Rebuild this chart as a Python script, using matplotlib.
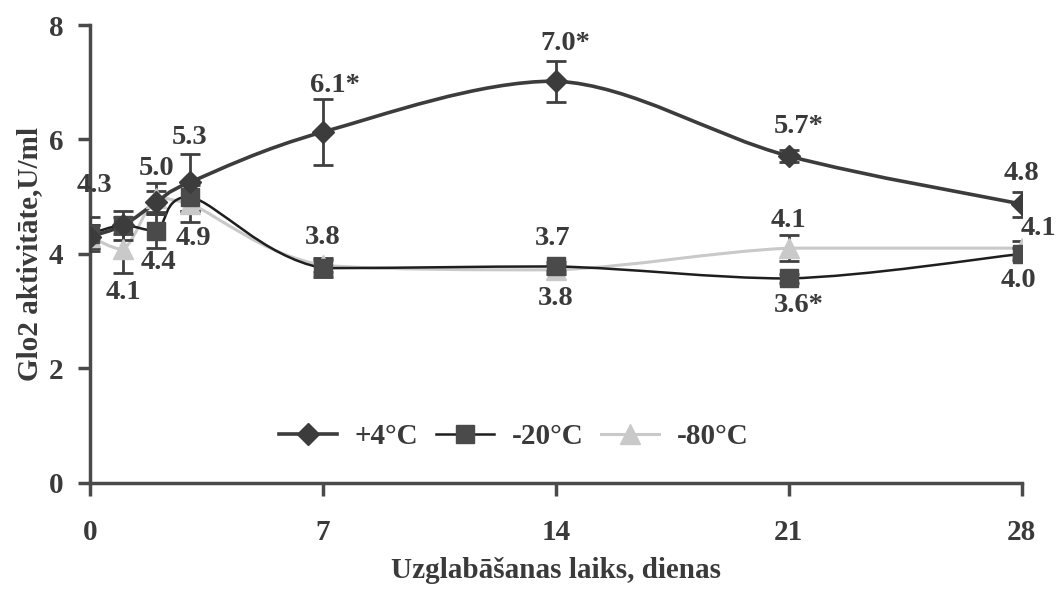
import numpy as np
import matplotlib
matplotlib.use('Agg')
import matplotlib.pyplot as plt
from matplotlib.path import Path
from matplotlib.patches import PathPatch
from matplotlib.lines import Line2D

# storage time, days
days = [0, 1, 2, 3, 7, 14, 21, 28]

plus4 = [4.3, 4.5, 4.9, 5.25, 6.13, 7.02, 5.71, 4.87]
plus4_err = [0.2, 0.15, 0.2, 0.5, 0.57, 0.36, 0.1, 0.22]

minus20 = [4.35, 4.5, 4.4, 5.0, 3.75, 3.78, 3.57, 4.0]
minus20_err = [0.3, 0.25, 0.3, 0.25, 0.15, 0.08, 0.08, 0.1]

minus80 = [4.3, 4.08, 4.98, 4.88, 3.8, 3.72, 4.1, 4.1]
minus80_err = [0.2, 0.42, 0.25, 0.32, 0.12, 0.08, 0.23, 0.12]

# value labels: (text, x, y)
labels = [
    ("4.3", 0.15, 5.2), ("4.1", 1.0, 3.32), ("5.0", 2.0, 5.5), ("4.4", 2.05, 3.85),
    ("5.3", 3.0, 6.03), ("4.9", 3.1, 4.27), ("6.1*", 7.35, 6.95), ("3.8", 7.0, 4.29),
    ("7.0*", 14.3, 7.67), ("3.7", 13.9, 4.27), ("3.8", 14.0, 3.22),
    ("5.7*", 21.3, 6.22), ("4.1", 21.0, 4.59), ("3.6*", 21.3, 3.1),
    ("4.8", 28.0, 5.41), ("4.1", 28.5, 4.45), ("4.0", 27.9, 3.54),
]

TXT = '#3a3a3a'
plt.rcParams['font.family'] = ['Liberation Serif', 'DejaVu Serif']
plt.rcParams['font.weight'] = 'bold'


def smooth_path(xs, ys):
    # bezier through the points (like Excel "smoothed line"), control points kept
    # inside each segment's y range so the curve does not overshoot
    pts = np.column_stack([xs, ys]).astype(float)
    n = len(pts)
    verts = [pts[0]]
    codes = [Path.MOVETO]
    for i in range(n - 1):
        p0 = pts[i - 1] if i > 0 else pts[i]
        p1 = pts[i]
        p2 = pts[i + 1]
        p3 = pts[i + 2] if i + 2 < n else pts[i + 1]
        c1 = p1 + (p2 - p0) / 6.0
        c2 = p2 - (p3 - p1) / 6.0
        lo, hi = min(p1[1], p2[1]), max(p1[1], p2[1])
        c1[1] = np.clip(c1[1], lo, hi)
        c2[1] = np.clip(c2[1], lo, hi)
        verts += [c1, c2, p2]
        codes += [Path.CURVE4] * 3
    return Path(verts, codes)


fig = plt.figure(figsize=(10.58, 5.89), dpi=100)
ax = fig.add_axes([0.085, 0.1805, 0.8807, 0.777])

series = [
    (minus80, minus80_err, '#c9c9c9', '#c9c9c9', '^', 14, 2.2),
    (minus20, minus20_err, '#1e1e1e', '#4a4a4a', 's', 13, 1.8),
    (plus4, plus4_err, '#3c3c3c', '#3c3c3c', 'D', 11, 2.6),
]
for vals, err, lc, mc, mk, ms, lw in series:
    ax.add_patch(PathPatch(smooth_path(days, vals), fill=False, edgecolor=lc, lw=lw, zorder=2))
    ax.errorbar(days, vals, yerr=err, fmt='none', ecolor='#404040', elinewidth=2,
                capsize=7, capthick=2, zorder=3)
    ax.plot(days, vals, linestyle='none', marker=mk, markersize=ms, color=mc,
            markeredgecolor=mc, zorder=4)

for t, x, y in labels:
    ax.text(x, y, t, ha='center', va='center', fontsize=20.5, fontweight='bold', color=TXT, zorder=5)

ax.set_xlim(0, 28)
ax.set_ylim(0, 8)
ax.set_xticks([0, 7, 14, 21, 28])
ax.set_yticks([0, 2, 4, 6, 8])
for s in ['top', 'right']:
    ax.spines[s].set_visible(False)
for s in ['left', 'bottom']:
    ax.spines[s].set_color('#4a4a4a')
    ax.spines[s].set_linewidth(2.5)
    ax.spines[s].set_clip_on(False)
ax.tick_params(axis='both', direction='out', length=9, width=2.5, color='#4a4a4a',
               labelsize=21, labelcolor=TXT)
ax.tick_params(axis='x', pad=17)
ax.tick_params(axis='y', pad=10)

ax.set_xlabel('Uzglabāšanas laiks, dienas', fontsize=21, fontweight='bold', color=TXT, labelpad=8)
ax.set_ylabel('Glo2 aktivitāte,U/ml', fontsize=21, fontweight='bold', color=TXT, labelpad=4)

leg_handles = [
    Line2D([], [], color='#3c3c3c', lw=2.6, marker='D', markersize=11),
    Line2D([], [], color='#1e1e1e', lw=1.8, marker='s', markersize=13,
           markerfacecolor='#4a4a4a', markeredgecolor='#4a4a4a'),
    Line2D([], [], color='#c9c9c9', lw=2.2, marker='^', markersize=14),
]
leg = ax.legend(leg_handles, ['+4°C', '-20°C', '-80°C'], loc='center', bbox_to_anchor=(0.455, 0.1),
                ncol=3, frameon=False, fontsize=21, handlelength=2.0, columnspacing=0.6,
                handletextpad=0.6)
for t in leg.get_texts():
    t.set_color(TXT)
    t.set_fontweight('bold')

fig.savefig('out.png', dpi=100)
